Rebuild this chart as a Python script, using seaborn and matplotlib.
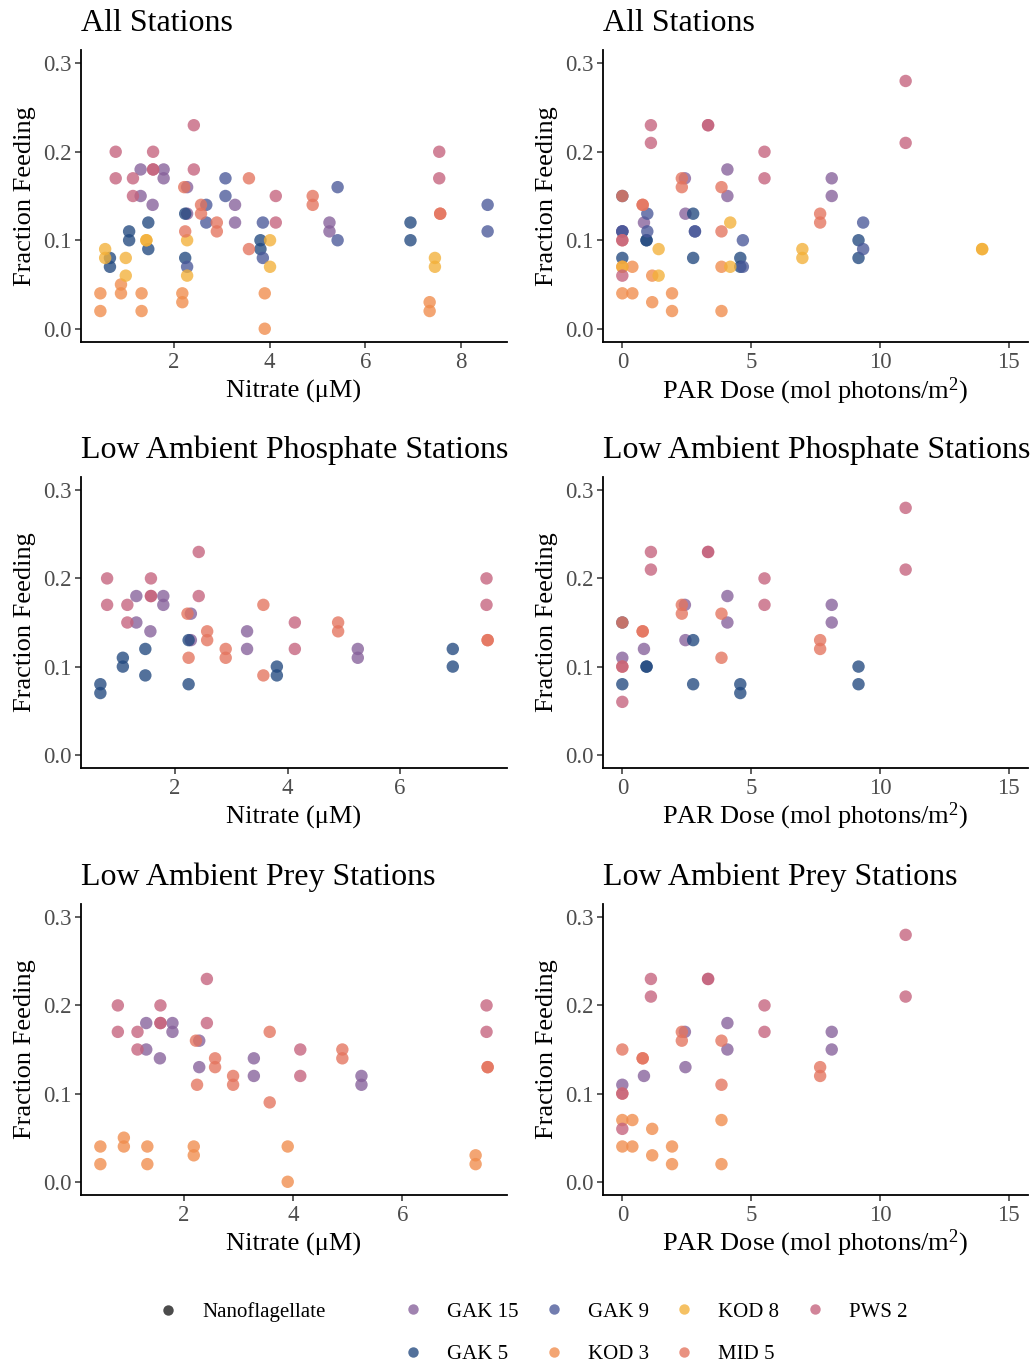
import numpy as np
import pandas as pd
import matplotlib
matplotlib.use("Agg")
import matplotlib.pyplot as plt
import seaborn as sns
from matplotlib.lines import Line2D
from matplotlib.ticker import MultipleLocator, FormatStrFormatter

# ---------------- data ----------------
stations = ["GAK 15", "GAK 5", "GAK 9", "KOD 3", "KOD 8", "MID 5", "PWS 2"]
station_colors = ["#86609a", "#22497f", "#4a5899", "#f08c4c", "#f3b038", "#e4745e", "#c4627c"]

low_phosphate_stations = ["GAK 5", "GAK 15", "MID 5", "PWS 2"]
low_prey_stations = ["GAK 15", "KOD 3", "MID 5", "PWS 2"]

# Nitrate (uM) vs fraction feeding
nit_gak5_x = [0.67, 0.67, 1.07, 1.07, 1.47, 1.47, 2.24, 2.24, 3.81, 3.81, 6.94, 6.94]
nit_gak5_y = [0.08, 0.07, 0.11, 0.10, 0.12, 0.09, 0.13, 0.08, 0.10, 0.09, 0.12, 0.10]
nit_gak9_x = [2.28, 2.68, 2.68, 3.08, 3.08, 3.86, 3.86, 5.42, 5.42, 8.55, 8.55]
nit_gak9_y = [0.07, 0.14, 0.12, 0.17, 0.15, 0.12, 0.08, 0.16, 0.10, 0.14, 0.11]
nit_gak15_x = [1.31, 1.31, 1.56, 1.79, 1.79, 2.28, 2.28, 3.28, 3.28, 5.25, 5.25]
nit_gak15_y = [0.18, 0.15, 0.14, 0.18, 0.17, 0.16, 0.13, 0.14, 0.12, 0.12, 0.11]
nit_kod8_x = [0.57, 0.57, 1.00, 1.00, 1.43, 1.43, 2.28, 2.28, 4.01, 4.01, 7.45, 7.45]
nit_kod8_y = [0.09, 0.08, 0.08, 0.06, 0.10, 0.10, 0.10, 0.06, 0.10, 0.07, 0.08, 0.07]
nit_kod3_x = [0.47, 0.47, 0.90, 0.90, 1.33, 1.33, 2.18, 2.18, 3.90, 3.90, 7.34, 7.34]
nit_kod3_y = [0.04, 0.02, 0.05, 0.04, 0.04, 0.02, 0.04, 0.03, 0.04, 0.00, 0.03, 0.02]
nit_mid5_x = [2.22, 2.24, 2.57, 2.57, 2.90, 2.90, 3.57, 3.57, 4.90, 4.90, 7.56, 7.56]
nit_mid5_y = [0.16, 0.11, 0.14, 0.13, 0.12, 0.11, 0.17, 0.09, 0.15, 0.14, 0.13, 0.13]
nit_pws2_x = [0.79, 0.79, 1.15, 1.15, 1.57, 1.57, 1.57, 2.42, 2.42, 4.13, 4.13, 7.54, 7.54]
nit_pws2_y = [0.20, 0.17, 0.17, 0.15, 0.20, 0.18, 0.18, 0.23, 0.18, 0.15, 0.12, 0.20, 0.17]

# PAR dose (mol photons/m2) vs fraction feeding
par_gak5_x = [0.00, 0.00, 0.94, 0.94, 2.75, 2.75, 4.58, 4.58, 9.17, 9.17]
par_gak5_y = [0.15, 0.08, 0.10, 0.10, 0.13, 0.08, 0.08, 0.07, 0.10, 0.08]
par_gak9_x = [0.00, 0.00, 0.97, 0.97, 2.82, 2.82, 4.68, 4.68, 9.35, 9.35]
par_gak9_y = [0.11, 0.11, 0.13, 0.11, 0.11, 0.11, 0.10, 0.07, 0.12, 0.09]
par_gak15_x = [0.00, 0.84, 2.43, 2.45, 4.08, 4.08, 8.13, 8.13]
par_gak15_y = [0.11, 0.12, 0.17, 0.13, 0.18, 0.15, 0.17, 0.15]
par_kod8_x = [0.00, 1.41, 1.41, 4.19, 4.19, 6.99, 6.99, 13.97, 13.97]
par_kod8_y = [0.07, 0.09, 0.06, 0.12, 0.07, 0.09, 0.08, 0.09, 0.09]
par_kod3_x = [0.00, 0.39, 0.00, 0.39, 1.16, 1.16, 1.93, 1.93, 3.85, 3.85]
par_kod3_y = [0.07, 0.07, 0.04, 0.04, 0.06, 0.03, 0.04, 0.02, 0.07, 0.02]
par_mid5_x = [0.00, 0.00, 0.79, 0.79, 2.31, 2.31, 3.85, 3.85, 7.68, 7.68]
par_mid5_y = [0.15, 0.10, 0.14, 0.14, 0.17, 0.16, 0.16, 0.11, 0.13, 0.12]
par_pws2_x = [0.00, 0.00, 1.11, 1.11, 3.33, 3.33, 5.52, 5.52, 11.00, 11.00]
par_pws2_y = [0.10, 0.06, 0.23, 0.21, 0.23, 0.23, 0.20, 0.17, 0.28, 0.21]

# ---------------- build tables ----------------
def make_df(xcol, groups):
    frames = [pd.DataFrame({"Station": s, xcol: x, "Fraction": y}) for s, x, y in groups]
    return pd.concat(frames, ignore_index=True)

nitrate_df = make_df("Nitrate", [
    ("GAK 15", nit_gak15_x, nit_gak15_y), ("GAK 5", nit_gak5_x, nit_gak5_y),
    ("GAK 9", nit_gak9_x, nit_gak9_y), ("KOD 3", nit_kod3_x, nit_kod3_y),
    ("KOD 8", nit_kod8_x, nit_kod8_y), ("MID 5", nit_mid5_x, nit_mid5_y),
    ("PWS 2", nit_pws2_x, nit_pws2_y)])
par_df = make_df("PAR", [
    ("GAK 15", par_gak15_x, par_gak15_y), ("GAK 5", par_gak5_x, par_gak5_y),
    ("GAK 9", par_gak9_x, par_gak9_y), ("KOD 3", par_kod3_x, par_kod3_y),
    ("KOD 8", par_kod8_x, par_kod8_y), ("MID 5", par_mid5_x, par_mid5_y),
    ("PWS 2", par_pws2_x, par_pws2_y)])

palette = dict(zip(stations, station_colors))

# ---------------- style ----------------
sns.set_theme(style="ticks")
plt.rcParams["font.family"] = ["Liberation Serif", "DejaVu Serif"]
plt.rcParams["text.color"] = "black"
plt.rcParams["mathtext.fontset"] = "custom"
plt.rcParams["mathtext.rm"] = "Liberation Serif"
plt.rcParams["mathtext.it"] = "Liberation Serif:italic"

W, H = 1032, 1362
fig = plt.figure(figsize=(W / 100, H / 100), dpi=100)

cols_px = [(81, 507), (603, 1028)]
rows_px = [(50, 342), (477, 768), (904, 1195)]

def make_ax(r, c):
    x0, x1 = cols_px[c]
    y0, y1 = rows_px[r]
    return fig.add_axes([x0 / W, 1 - y1 / H, (x1 - x0) / W, (y1 - y0) / H])

ALPHA = 0.78
PT_SIZE = 80
AX_H_PX = rows_px[0][1] - rows_px[0][0]

def panel(ax, df, xcol, title, xlabel, fixed=None, step=2):
    sns.scatterplot(data=df, x=xcol, y="Fraction", hue="Station", palette=palette,
                    s=PT_SIZE, alpha=ALPHA, linewidth=0, legend=False, ax=ax)
    if fixed is None:
        lo, hi = df[xcol].min(), df[xcol].max()
    else:
        lo, hi = fixed
    pad = 0.05 * (hi - lo)
    ax.set_xlim(lo - pad, hi + pad)
    ax.set_ylim(-0.015, 0.315)
    ax.xaxis.set_major_locator(MultipleLocator(step))
    ax.yaxis.set_major_locator(MultipleLocator(0.1))
    ax.yaxis.set_major_formatter(FormatStrFormatter("%.1f"))
    for side in ["top", "right"]:
        ax.spines[side].set_visible(False)
    for side in ["left", "bottom"]:
        ax.spines[side].set_linewidth(1.3)
        ax.spines[side].set_color("black")
    ax.tick_params(axis="both", length=4, width=1.1, color="#333333",
                   labelsize=16.5, labelcolor="#4d4d4d", pad=3)
    ax.set_title(title, loc="left", fontsize=23, pad=13.5, color="black")
    ax.set_xlabel(xlabel, fontsize=19, color="black")
    ax.xaxis.label.set_verticalalignment("baseline")
    ax.xaxis.set_label_coords(0.5, -(398 - 342) / AX_H_PX)
    ax.set_ylabel("Fraction Feeding", fontsize=19, labelpad=5, color="black")

nit_label = "Nitrate (\u03bcM)"
par_label = r"PAR Dose (mol photons/m$^{\mathrm{2}}$)"

titles = ["All Stations", "Low Ambient Phosphate Stations", "Low Ambient Prey Stations"]
subsets = [stations, low_phosphate_stations, low_prey_stations]

for r in range(3):
    nd = nitrate_df[nitrate_df["Station"].isin(subsets[r])]
    pdf = par_df[par_df["Station"].isin(subsets[r])]
    panel(make_ax(r, 0), nd, "Nitrate", titles[r], nit_label, None, 2)
    panel(make_ax(r, 1), pdf, "PAR", titles[r], par_label, (0, 15), 5)

# ---------------- legends ----------------
FS = 15
fs_px = FS * 100 / 72
ms = 7.5

shape_handles = [Line2D([0], [0], marker="o", linestyle="none", markersize=ms,
                        markerfacecolor="black", markeredgewidth=0, alpha=0.7)]
leg1 = fig.legend(shape_handles, ["Nanoflagellate"], loc="upper left",
                  bbox_to_anchor=((168 - fs_px / 2) / W, 1 - 1302 / H),
                  frameon=False, fontsize=FS, handlelength=1.0, handletextpad=1.13,
                  borderpad=0, borderaxespad=0, labelcolor="black")

color_handles = [Line2D([0], [0], marker="o", linestyle="none", markersize=ms,
                        markerfacecolor=palette[s], markeredgewidth=0, alpha=ALPHA)
                 for s in stations]
leg2 = fig.legend(color_handles, stations, loc="upper left", ncol=4,
                  bbox_to_anchor=((413 - fs_px / 2) / W, 1 - 1302 / H),
                  frameon=False, fontsize=FS, handlelength=1.0, handletextpad=1.13,
                  columnspacing=1.2, labelspacing=1.1, borderpad=0, borderaxespad=0,
                  labelcolor="black")

fig.savefig("out.png", dpi=100)
